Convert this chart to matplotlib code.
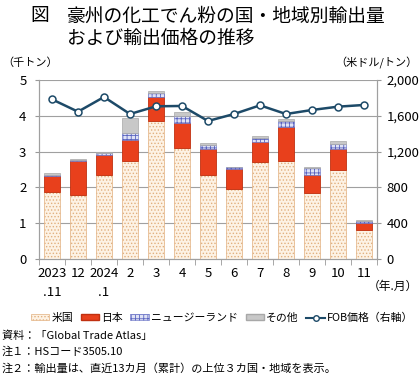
import matplotlib
matplotlib.use("Agg")
import matplotlib.pyplot as plt
import numpy as np
from matplotlib.patches import Patch
from matplotlib.lines import Line2D

plt.rcParams['font.family'] = ['Noto Sans CJK JP', 'DejaVu Sans']
plt.rcParams['hatch.linewidth'] = 0.6

categories = ["2023\n.11", "12", "2024\n.1", "2", "3", "4", "5", "6", "7", "8", "9", "10", "11"]
us = [1.86, 1.79, 2.36, 2.74, 3.86, 3.09, 2.35, 1.95, 2.70, 2.75, 1.83, 2.49, 0.80]
japan = [0.47, 0.95, 0.54, 0.58, 0.66, 0.70, 0.72, 0.56, 0.58, 0.94, 0.52, 0.59, 0.20]
nz = [0.03, 0.02, 0.07, 0.21, 0.11, 0.21, 0.11, 0.05, 0.11, 0.17, 0.19, 0.12, 0.07]
other = [0.05, 0.03, 0.02, 0.40, 0.06, 0.10, 0.05, 0.02, 0.04, 0.06, 0.03, 0.11, 0.03]
fob = [1784, 1646, 1810, 1620, 1706, 1710, 1542, 1620, 1717, 1620, 1665, 1702, 1721]

left_ticks = [0, 1, 2, 3, 4, 5]
right_ticks = [0, 400, 800, 1200, 1600, 2000]

W, H = 420, 375
fig = plt.figure(figsize=(W / 100, H / 100), dpi=100)
ax = fig.add_axes([39 / W, 1 - 259 / H, (377 - 39) / W, (259 - 80) / H])
ax2 = ax.twinx()

x = np.arange(len(categories))
bw = 0.58
us_c = '#fdf2e4'
us_h = '#e2b07f'
ax.bar(x, us, bw, color=us_c, edgecolor=us_h, hatch='.....', linewidth=0.5, zorder=3)
b1 = np.array(us)
ax.bar(x, japan, bw, bottom=b1, color='#e8401c', edgecolor='#c03010', linewidth=0.6, zorder=3)
b2 = b1 + np.array(japan)
ax.bar(x, nz, bw, bottom=b2, color='#dfe2f5', edgecolor='#5a64c0', hatch='++++', linewidth=0.4, zorder=3)
b3 = b2 + np.array(nz)
ax.bar(x, other, bw, bottom=b3, color='#c8c8c8', edgecolor='#a8a8a8', linewidth=0.5, zorder=3)

line_c = '#1d4a68'
ax2.plot(x, fob, color=line_c, lw=1.8, marker='o', ms=5, mfc='white', mec=line_c, mew=1.1, zorder=5)

ax.set_xlim(-0.5, len(categories) - 0.5)
ax.set_ylim(0, 5)
ax2.set_ylim(0, 2000)
ax.set_yticks(left_ticks)
ax.set_yticklabels([str(t) for t in left_ticks], fontsize=9.5)
ax2.set_yticks(right_ticks)
ax2.set_yticklabels([f"{t:,}" for t in right_ticks], fontsize=9.5)
ax.set_xticks(x)
ax.set_xticklabels(categories, fontsize=9.5, linespacing=1.6, va='top')
ax.set_xticks(np.arange(-0.5, len(categories), 1), minor=True)
ax.tick_params(axis='x', which='major', length=0, pad=6)
ax.tick_params(axis='x', which='minor', length=4, color='#999999')
ax.tick_params(axis='y', length=3, color='#999999', pad=6)
ax2.tick_params(axis='y', length=3, color='#999999', pad=4)
ax.grid(axis='y', color='#a0a0a0', lw=0.8, zorder=0)
ax.set_axisbelow(True)
ax2.set_zorder(ax.get_zorder() + 1)
ax2.patch.set_visible(False)
for a in (ax, ax2):
    a.spines['top'].set_visible(False)
    for s in ('left', 'right', 'bottom'):
        a.spines[s].set_color('#a0a0a0')
        a.spines[s].set_linewidth(0.8)

def ft(px, py, s, **kw):
    fig.text(px / W, 1 - py / H, s, **kw)

ft(30, 16, "図", fontsize=13.5, va='center', ha='left')
ft(67, 16, "豪州の化工でん粉の国・地域別輸出量", fontsize=13.5, va='center', ha='left')
ft(67, 38, "および輸出価格の推移", fontsize=13.5, va='center', ha='left')
ft(2, 63, "（千トン）", fontsize=8, va='center', ha='left')
ft(418, 63, "（米ドル/トン）", fontsize=8, va='center', ha='right')
ft(418, 286, "（年.月）", fontsize=8.5, va='center', ha='right')

handles = [
    Patch(facecolor=us_c, edgecolor=us_h, hatch='.....', lw=0.5),
    Patch(facecolor='#e8401c', edgecolor='#c03010'),
    Patch(facecolor='#dfe2f5', edgecolor='#5a64c0', hatch='++++', lw=0.4),
    Patch(facecolor='#c8c8c8', edgecolor='#a8a8a8'),
    Line2D([0], [0], color=line_c, lw=1.5, marker='o', ms=4, mfc='white', mec=line_c),
]
labels = ["米国", "日本", "ニュージーランド", "その他", "FOB価格（右軸）"]
fig.legend(handles, labels, loc='center', bbox_to_anchor=(222 / W, 1 - 318 / H), ncol=5,
           frameon=False, fontsize=7.8, handlelength=1.7, handleheight=0.5, handletextpad=0.2,
           columnspacing=0.7, borderpad=0.1)

ft(2, 336, "資料：「Global Trade Atlas」", fontsize=8, va='center', ha='left')
ft(2, 352, "注１：HSコード3505.10", fontsize=8, va='center', ha='left')
ft(2, 368, "注２：輸出量は、直近13カ月（累計）の上位３カ国・地域を表示。", fontsize=8, va='center', ha='left')

fig.savefig("out.png", dpi=100)
